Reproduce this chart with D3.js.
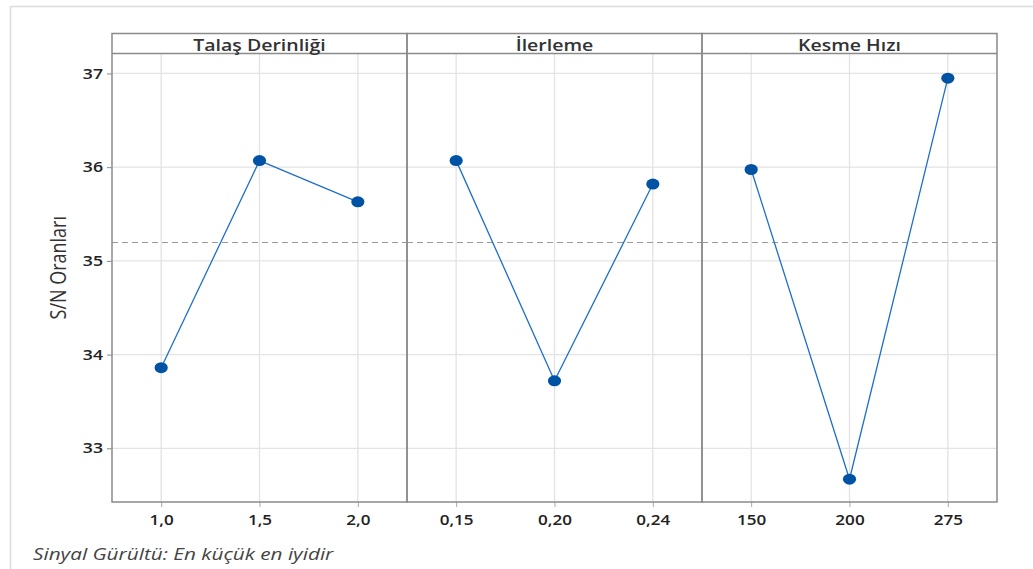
<!DOCTYPE html>
<html><head><meta charset="utf-8">
<script src="https://cdn.jsdelivr.net/npm/d3@7"></script>
<style>body{margin:0;background:#fff}svg{display:block}</style>
</head><body>
<script>
const panels = ["Talaş Derinliği", "İlerleme", "Kesme Hızı"];
const levels1 = ["1,0", "1,5", "2,0"];
const values1 = [33.86, 36.07, 35.63];
const levels2 = ["0,15", "0,20", "0,24"];
const values2 = [36.07, 33.72, 35.82];
const levels3 = ["150", "200", "275"];
const values3 = [35.975, 32.67, 36.95];
const yTicks = [33, 34, 35, 36, 37];
const yLabel = "S/N Oranları";
const footnote = "Sinyal Gürültü: En küçük en iyidir";

(function () {
const data = [
  {name: panels[0], levels: levels1, values: values1},
  {name: panels[1], levels: levels2, values: values2},
  {name: panels[2], levels: levels3, values: values3}
];
const allVals = values1.concat(values2, values3);
const grandMean = d3.mean(allVals);
const SX = 1.22; // horizontal text stretch

const W = 1033, H = 569;
const pL = 112, pR = 997, pT = 53.5, pB = 502, stripTop = 33.5;
const svg = d3.select("body").append("svg").attr("width", W).attr("height", H);
const FONT = "Open Sans, sans-serif";

svg.append("line").attr("x1", 10).attr("x2", W).attr("y1", 6.5).attr("y2", 6.5).attr("stroke", "#dcdcdc").attr("stroke-width", 1.5);
svg.append("line").attr("x1", 10.5).attr("x2", 10.5).attr("y1", 6).attr("y2", H).attr("stroke", "#dcdcdc").attr("stroke-width", 1.5);

const y = d3.scaleLinear().domain([32.427, 37.213]).range([pB, pT]);
const px = d3.scaleBand().domain(panels).range([pL, pR]);

svg.append("g").selectAll("line").data(yTicks).join("line")
  .attr("x1", pL).attr("x2", pR).attr("y1", d => y(d)).attr("y2", d => y(d))
  .attr("stroke", "#e3e3e3").attr("stroke-width", 1.3);

const yAxis = svg.append("g").attr("transform", `translate(${pL},0)`)
  .call(d3.axisLeft(y).tickValues(yTicks).tickSize(5).tickPadding(4).tickFormat(d3.format("d")));
yAxis.select(".domain").remove();
yAxis.selectAll("line").attr("stroke", "#888");
yAxis.selectAll("text").attr("x", -9 / SX).attr("transform", `scale(${SX},1)`)
  .attr("font-family", FONT).attr("font-size", 14.5).attr("font-weight", 600).attr("fill", "#222");

data.forEach(p => {
  const x0 = px(p.name), bw = px.bandwidth();
  const x = d3.scalePoint().domain(p.levels).range([x0, x0 + bw]).padding(0.5);
  const g = svg.append("g");
  g.selectAll(".vg").data(p.levels).join("line")
    .attr("x1", d => x(d)).attr("x2", d => x(d)).attr("y1", pT).attr("y2", pB)
    .attr("stroke", "#e3e3e3").attr("stroke-width", 1.3);
  g.append("line").attr("x1", x0).attr("x2", x0 + bw).attr("y1", y(grandMean)).attr("y2", y(grandMean))
    .attr("stroke", "#9a9a9a").attr("stroke-width", 1.2).attr("stroke-dasharray", "6,4");
  const xa = g.append("g").attr("transform", `translate(0,${pB})`)
    .call(d3.axisBottom(x).tickSize(5).tickPadding(8));
  xa.select(".domain").remove();
  xa.selectAll("line").attr("stroke", "#aaa");
  xa.selectAll("text").attr("transform", `scale(${SX},1)`)
    .attr("font-family", FONT).attr("font-size", 14).attr("font-weight", 600).attr("fill", "#222");
  const pts = p.levels.map((l, i) => [x(l), y(p.values[i])]);
  g.append("path").attr("d", d3.line()(pts)).attr("fill", "none").attr("stroke", "#1f6fc9").attr("stroke-width", 1.3);
  g.selectAll("ellipse").data(pts).join("ellipse")
    .attr("cx", d => d[0]).attr("cy", d => d[1]).attr("rx", 6.6).attr("ry", 5.5).attr("fill", "#0052a5");
  g.append("rect").attr("x", x0).attr("y", stripTop).attr("width", bw).attr("height", pB - stripTop)
    .attr("fill", "none").attr("stroke", "#8a8a8a").attr("stroke-width", 1.5);
  g.append("line").attr("x1", x0).attr("x2", x0 + bw).attr("y1", pT).attr("y2", pT)
    .attr("stroke", "#8a8a8a").attr("stroke-width", 1.5);
  g.append("text").attr("transform", `translate(${x0 + bw / 2},50.5) scale(${SX},1)`).attr("text-anchor", "middle")
    .attr("font-family", FONT).attr("font-size", 16).attr("font-weight", 600).attr("fill", "#333")
    .text(p.name);
});

svg.append("text").attr("transform", `translate(66,${(pT + pB) / 2 - 10}) scale(${SX},1) rotate(-90)`)
  .attr("text-anchor", "middle").attr("font-family", FONT).attr("font-size", 18).attr("fill", "#333")
  .text(yLabel);

svg.append("text").attr("transform", `translate(33,560) scale(${SX},1)`)
  .attr("font-family", FONT).attr("font-size", 17).attr("font-style", "italic").attr("fill", "#444")
  .text(footnote);
})();
</script>
</body></html>
